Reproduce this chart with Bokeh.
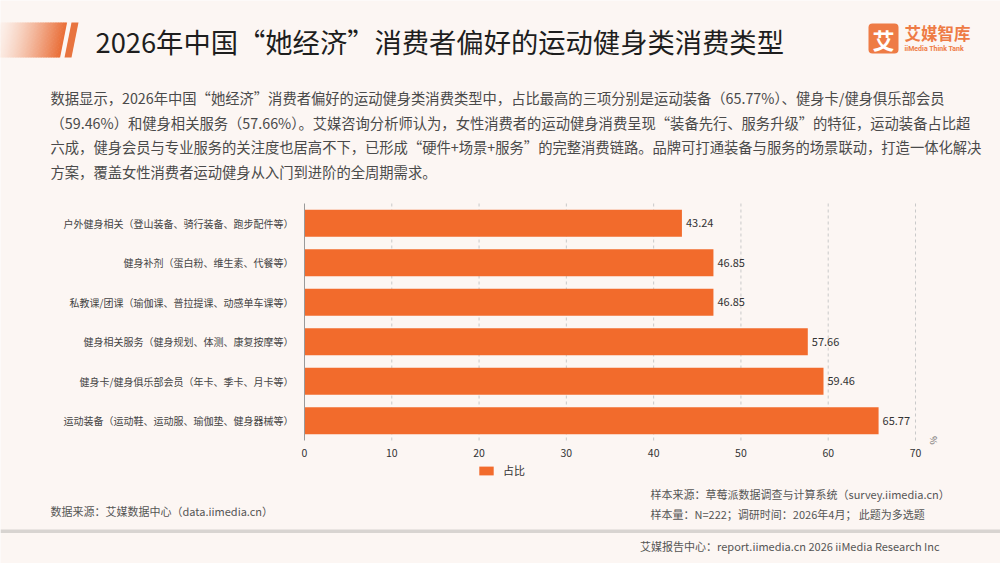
import math
from bokeh.plotting import figure
from bokeh.models import (ColumnDataSource, Range1d, Legend, LegendItem, LinearAxis, FixedTicker)
from bokeh.embed import file_html
from bokeh.resources import INLINE
from bokeh.core.properties import value

# ---------------- data ----------------
TITLE = "2026年中国“她经济”消费者偏好的运动健身类消费类型"
PARAGRAPH = [
    "数据显示，2026年中国“她经济”消费者偏好的运动健身类消费类型中，占比最高的三项分别是运动装备（65.77%）、健身卡/健身俱乐部会员",
    "（59.46%）和健身相关服务（57.66%）。艾媒咨询分析师认为，女性消费者的运动健身消费呈现“装备先行、服务升级”的特征，运动装备占比超",
    "六成，健身会员与专业服务的关注度也居高不下，已形成“硬件+场景+服务”的完整消费链路。品牌可打通装备与服务的场景联动，打造一体化解决",
    "方案，覆盖女性消费者运动健身从入门到进阶的全周期需求。",
]
# listed bottom -> top
categories = [
    "运动装备（运动鞋、运动服、瑜伽垫、健身器械等）",
    "健身卡/健身俱乐部会员（年卡、季卡、月卡等）",
    "健身相关服务（健身规划、体测、康复按摩等）",
    "私教课/团课（瑜伽课、普拉提课、动感单车课等）",
    "健身补剂（蛋白粉、维生素、代餐等）",
    "户外健身相关（登山装备、骑行装备、跑步配件等）",
]
values = [65.77, 59.46, 57.66, 46.85, 46.85, 43.24]
x_ticks = [0, 10, 20, 30, 40, 50, 60, 70]
SERIES_NAME = "占比"
UNIT = "%"
SOURCE_LEFT = "数据来源：艾媒数据中心（data.iimedia.cn）"
SAMPLE_SOURCE = "样本来源：草莓派数据调查与计算系统（survey.iimedia.cn）"
SAMPLE_INFO = "样本量：N=222；调研时间：2026年4月； 此题为多选题"
FOOTER = "艾媒报告中心：report.iimedia.cn   2026 iiMedia Research Inc"
LOGO_CHAR = "艾"
LOGO_NAME = "艾媒智库"
LOGO_SUB = "iiMedia Think Tank"

# ---------------- style / geometry ----------------
W, H = 1000, 563
BG = "#FCF6F3"
ORANGE = "#F26B2C"
FONT = "Noto Sans CJK SC"

# value axis: 0 -> px 304, 70 -> px 915 ; category axis: bands from px 440 (bottom) to 203 (top)
PX_L, PX_R, VMAX = 304.0, 915.0, 70.0
kx = (PX_R - PX_L) / VMAX
val_range = Range1d(-PX_L / kx, -PX_L / kx + W / kx)
PY_B, PY_T = 440.0, 203.0
n = len(categories)
ky = (PY_B - PY_T) / n
cat_end = (n - 0.5) + PY_T / ky
cat_range = Range1d(cat_end - H / ky, cat_end)

p = figure(width=W, height=H, x_range=Range1d(0, W), y_range=Range1d(H, 0),
           toolbar_location=None, output_backend="svg", min_border=0,
           x_axis_location=None, y_axis_location=None,
           background_fill_color=BG, border_fill_color=BG, outline_line_color=None)
p.grid.visible = False
p.extra_x_ranges = {"val": val_range}
p.extra_y_ranges = {"cat": cat_range}


def txt(x, y, s, size, color, align="left", style="normal", font=FONT):
    p.text(x=[x], y=[y], text=[s], text_font=value(font), text_font_size=value(size),
           text_color=color, text_align=align, text_baseline="middle", text_font_style=style)


# ---------------- header ----------------
N = 40
top, bot, right, slant = 22, 57, 66, 7
xs, ys, cols = [], [], []
c0 = (252, 240, 234)
c1 = (234, 112, 58)
for i in range(N):
    xa = right * i / N
    xb = right * (i + 1) / N + 0.6
    t = (i / (N - 1)) ** 1.3
    c = tuple(int(c0[k] + (c1[k] - c0[k]) * t) for k in range(3))
    xs.append([xa, xb, xb - slant, xa - slant])
    ys.append([top, top, bot, bot])
    cols.append("#%02x%02x%02x" % c)
p.patches(xs=xs, ys=ys, fill_color=cols, line_color=None)
p.patch(x=[71, 78, 78 - slant, 71 - slant], y=[top, top, bot, bot], fill_color="#E8743F", line_color=None)

txt(95, 40, TITLE, "27.3px", "#1e1e1e")

p.quad(left=[868], right=[898], top=[23], bottom=[53], fill_color="#EE7B45", line_color=None,
       border_radius=4)
txt(883, 38.5, LOGO_CHAR, "22px", "white", align="center", style="bold")
txt(904, 32, LOGO_NAME, "16.5px", "#EE7B45", style="bold")
txt(904, 48.5, LOGO_SUB, "7px", "#EE7B45", style="bold", font="Roboto")

for i, line in enumerate(PARAGRAPH):
    txt(50, 97 + i * 24.5, line, "14.3px", "#4a4a4a")

# ---------------- chart ----------------
pos = list(range(n))
src = ColumnDataSource(dict(pos=pos, val=values, lab=["%.2f" % v for v in values]))

# dashed grid lines at the value ticks
p.segment(x0=x_ticks[1:], x1=x_ticks[1:], y0=[-0.5] * (len(x_ticks) - 1), y1=[n - 0.5] * (len(x_ticks) - 1),
          x_range_name="val", y_range_name="cat", line_color="#c9c9c9", line_dash="3 3", line_width=1)

bars = p.hbar(y="pos", left=0, right="val", height=0.684, source=src,
              fill_color=ORANGE, line_color=None, x_range_name="val", y_range_name="cat")
p.text(x="val", y="pos", text="lab", source=src, x_offset=4, text_baseline="middle",
       text_font=value(FONT), text_font_size=value("11px"), text_color="#333333",
       x_range_name="val", y_range_name="cat")

xaxis = LinearAxis(x_range_name="val", y_range_name="cat", fixed_location=-0.5,
                   ticker=FixedTicker(ticks=x_ticks), bounds=(0, VMAX))
xaxis.axis_line_color = None
xaxis.major_tick_line_color = None
xaxis.minor_tick_line_color = None
xaxis.major_label_standoff = 2
xaxis.major_label_text_font = FONT
xaxis.major_label_text_font_size = "10.5px"
xaxis.major_label_text_color = "#333333"
p.add_layout(xaxis, "below")

yaxis = LinearAxis(x_range_name="val", y_range_name="cat", fixed_location=0,
                   ticker=FixedTicker(ticks=pos), bounds=(-0.5, n - 0.5),
                   major_label_overrides={i: c for i, c in enumerate(categories)})
yaxis.axis_line_color = "#9a9a9a"
yaxis.major_tick_line_color = None
yaxis.minor_tick_line_color = None
yaxis.major_label_standoff = 5
yaxis.major_label_text_font = FONT
yaxis.major_label_text_font_size = "10px"
yaxis.major_label_text_color = "#444444"
p.add_layout(yaxis, "left")

p.text(x=[VMAX], y=[-0.5], text=[UNIT], x_offset=18, y_offset=0, angle=-math.pi / 2,
       text_font=value(FONT), text_font_size=value("9px"), text_color="#666666",
       text_align="center", text_baseline="middle", x_range_name="val", y_range_name="cat")

legend = Legend(items=[LegendItem(label=SERIES_NAME, renderers=[bars])], location=(477, H - 478),
                orientation="horizontal", padding=0, margin=0, spacing=0,
                glyph_width=18, glyph_height=11, label_height=11, label_standoff=8,
                label_text_font=FONT, label_text_font_size="11px", label_text_color="#333333",
                background_fill_alpha=0, border_line_color=None)
p.add_layout(legend)

# ---------------- footer ----------------
txt(50, 510, SOURCE_LEFT, "11px", "#555555")
txt(650, 493.5, SAMPLE_SOURCE, "11px", "#555555")
txt(650, 513, SAMPLE_INFO, "11px", "#555555")
p.quad(left=[0], right=[W], top=[529], bottom=[532.5], fill_color="#D8D4D1", line_color=None)
txt(944, 545, FOOTER, "11px", "#555555", align="right")

open("out.html", "w").write(file_html(p, INLINE))
